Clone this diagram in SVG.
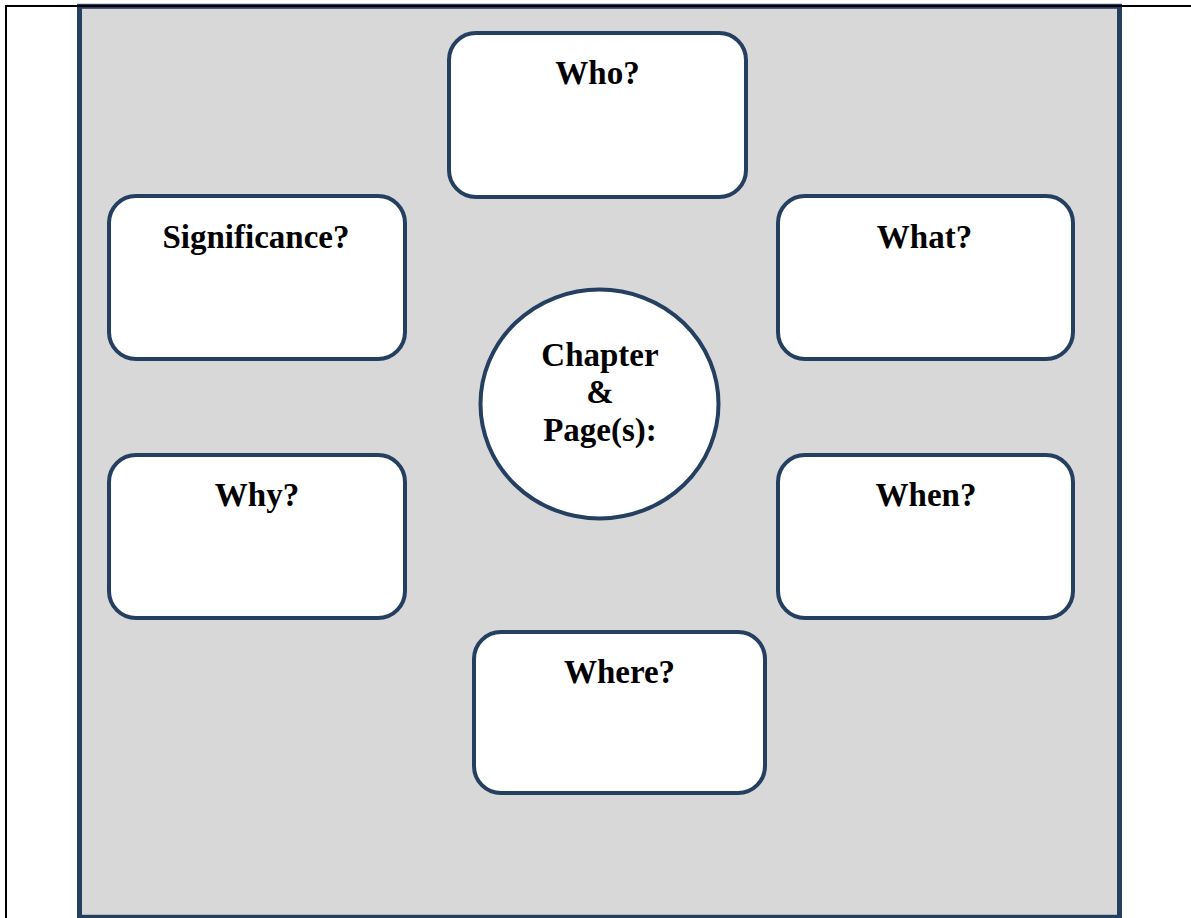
<svg xmlns="http://www.w3.org/2000/svg" width="1191" height="918" viewBox="0 0 1191 918">
  <style>
    .panel { fill: #d8d8d8; stroke: #243f60; stroke-width: 5; }
    .frame { fill: none; stroke: #000000; stroke-width: 2; }
    .box { fill: #ffffff; stroke: #243f60; stroke-width: 4; }
    .label { font-family: "Liberation Serif", "Times New Roman", serif; font-weight: bold; font-size: 33px; fill: #000000; text-anchor: middle; }
  </style>
  <rect width="1191" height="918" fill="#ffffff"/>

  <!-- grey background panel -->
  <rect class="panel" x="79.5" y="6.3" width="1040" height="911"/>

  <!-- thin page frame (top and left edges) -->
  <path class="frame" d="M6 918 V6 H1191"/>

  <g id="connectors"/>

  <g id="node-who">
    <rect class="box" x="449" y="33" width="297" height="164" rx="27" ry="27"/>
    <text class="label" x="597.5" y="84">Who?</text>
  </g>

  <g id="node-significance">
    <rect class="box" x="109" y="196" width="296" height="163" rx="27" ry="27"/>
    <text class="label" x="256" y="248">Significance?</text>
  </g>

  <g id="node-what">
    <rect class="box" x="778" y="196" width="295" height="163" rx="27" ry="27"/>
    <text class="label" x="924.5" y="248">What?</text>
  </g>

  <g id="node-chapter">
    <ellipse class="box" cx="599.5" cy="404" rx="119" ry="114.5"/>
    <text class="label" x="600" y="366">Chapter</text>
    <text class="label" x="600" y="403">&amp;</text>
    <text class="label" x="600" y="441">Page(s):</text>
  </g>

  <g id="node-why">
    <rect class="box" x="109" y="455" width="296" height="163" rx="27" ry="27"/>
    <text class="label" x="257" y="506">Why?</text>
  </g>

  <g id="node-when">
    <rect class="box" x="778" y="455" width="295" height="163" rx="27" ry="27"/>
    <text class="label" x="926" y="506">When?</text>
  </g>

  <g id="node-where">
    <rect class="box" x="474" y="632" width="291" height="161" rx="27" ry="27"/>
    <text class="label" x="619.5" y="683">Where?</text>
  </g>
</svg>
